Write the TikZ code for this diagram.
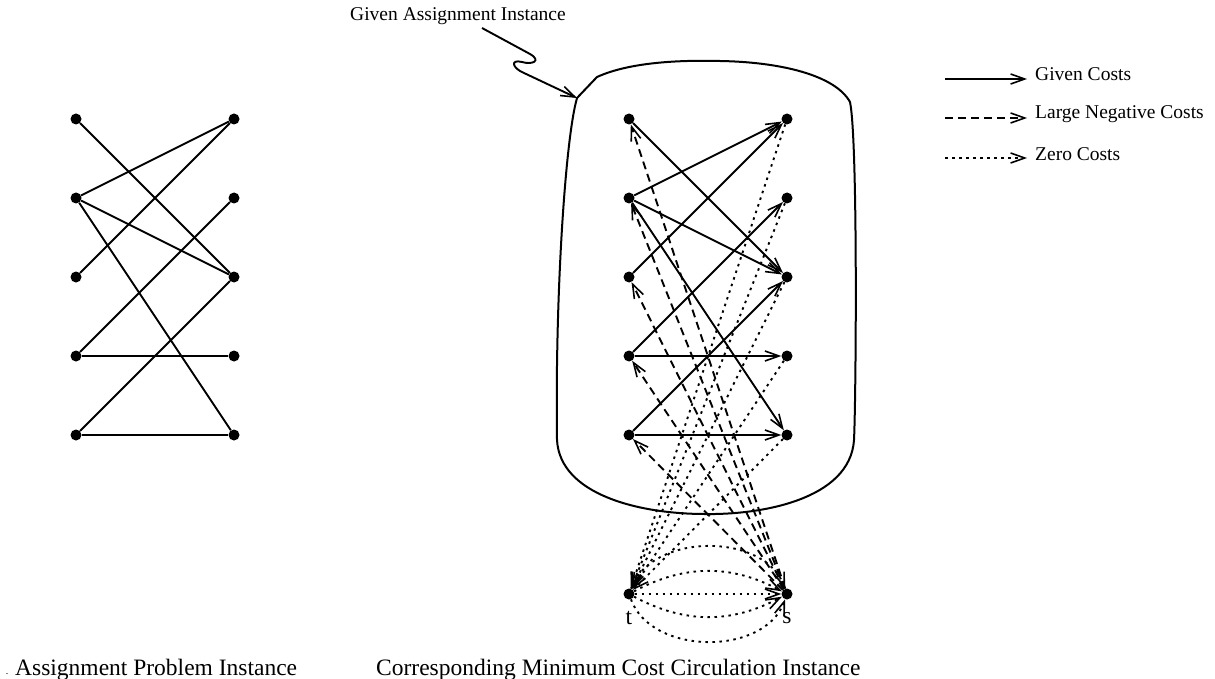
\documentclass[tikz,border=0pt]{standalone}
\usepackage{fontspec}
\setmainfont{Liberation Serif}
\usetikzlibrary{arrows.meta,calc}
\begin{document}
\begin{tikzpicture}[x=1pt,y=-1pt,
 dot/.style={circle,fill=black,inner sep=0pt,minimum size=11pt},
 edge/.style={line width=1.9pt},
 tip/.style={-{Straight Barb[length=14pt,width=10pt,line width=1.6pt]}},
 given/.style={edge,tip},
 neg/.style={edge,tip,dash pattern=on 8pt off 5pt},
 zero/.style={edge,tip,dash pattern=on 2.5pt off 4.5pt},
 blob/.style={line width=2pt},
 lbl/.style={font=\fontsize{19.5}{22}\selectfont,inner sep=0pt},
 big/.style={font=\fontsize{23.5}{26}\selectfont,inner sep=0pt}
]
\useasboundingbox (0,0) rectangle (1215,679);

% ---------- left graph ----------
\foreach \i/\y in {1/119,2/198,3/277,4/356,5/435}{
  \node[dot] (l\i) at (76,\y) {};
  \node[dot] (r\i) at (234,\y) {};
}
\foreach \u/\v in {1/3,2/1,2/3,2/5,3/1,4/2,4/4,5/3,5/5}
  \draw[edge] (l\u) -- (r\v);

% ---------- right graph ----------
\foreach \i/\y in {1/119,2/198,3/277,4/356,5/435}{
  \node[dot] (a\i) at (629,\y) {};
  \node[dot] (b\i) at (787,\y) {};
}
\node[dot] (t) at (629,594) {};
\node[dot] (s) at (787,594) {};
\node[big] (tl) at (629,618) {t};
\node[big] (sl) at (787,618) {s};

\foreach \u/\v in {1/3,2/1,2/3,2/5,3/1,4/2,4/4,5/3,5/5}
  \draw[given] (a\u) -- (b\v);
\foreach \i in {1,...,5}
  \draw[neg] (s) -- (a\i);
\foreach \i in {1,...,5}
  \draw[zero] (b\i) -- (t);
\draw[zero] (t) -- (s);
\draw[zero] (t) to[bend left=28] (s);
\draw[zero] (t) to[bend left=70] (s);
\draw[zero] (t) to[bend right=28] (s);
\draw[zero] (t) to[bend right=70] (s);

% ---------- enclosing blob ----------
\draw[blob] (577,98) -- (597,77)
  .. controls (630,62) and (680,60) .. (720,61)
  .. controls (780,62) and (835,75) .. (850,102)
  .. controls (858,140) and (856,400) .. (854,440)
  .. controls (850,500) and (760,515) .. (705,514)
  .. controls (640,514) and (560,495) .. (557,440)
  .. controls (555,300) and (565,140) .. (577,98) -- cycle;

% ---------- callout ----------
\node[lbl] (callout) at (458,16) {Given Assignment Instance};
\coordinate (cs) at (482,28);
\coordinate (ce) at (577,98);
\draw[edge,tip] (cs) -- (530,54) .. controls (542,61) and (532,65) .. (522,62)
  .. controls (510,59) and (512,68) .. (524,73) -- (ce);

% ---------- legend ----------
\coordinate (g1) at (945,79);  \coordinate (g2) at (1027,79);
\coordinate (n1) at (945,118); \coordinate (n2) at (1027,118);
\coordinate (z1) at (945,158); \coordinate (z2) at (1027,158);
\draw[given] (g1) -- (g2);
\draw[neg] (n1) -- (n2);
\draw[zero] (z1) -- (z2);
\node[lbl,anchor=west] (lg) at (1035,74) {Given Costs};
\node[lbl,anchor=west] (ln) at (1035,114) {Large Negative Costs};
\node[lbl,anchor=west] (lz) at (1035,154) {Zero Costs};

% ---------- captions ----------
\node[font=\fontsize{10}{12}\selectfont,inner sep=0pt,anchor=base] (dotmark) at (7,674) {.};
\node[big,anchor=base west] (cap1) at (15,675) {Assignment Problem Instance};
\node[big,anchor=base west] (cap2) at (376,675) {Corresponding Minimum Cost Circulation Instance};
\end{tikzpicture}
\end{document}
